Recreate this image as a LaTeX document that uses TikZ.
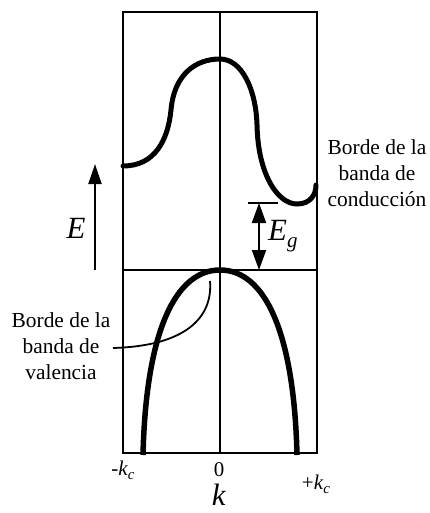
\documentclass[tikz,border=0pt]{standalone}
\usepackage{fontspec}
\setmainfont{Liberation Serif}
\usetikzlibrary{arrows.meta}
\newcommand{\itx}[1]{\textit{#1}}
\begin{document}
\begin{tikzpicture}[x=1bp,y=-1bp,
  frame/.style={line width=2.2bp},
  band/.style={line width=5bp},
  lbl/.style={font=\fontsize{21.5}{26}\selectfont, align=center, inner sep=0pt},
  axl/.style={font=\fontsize{21}{24}\selectfont, inner sep=0pt},
  big/.style={font=\fontsize{31}{32}\selectfont, inner sep=0pt},
  tri/.style={-{Triangle[length=20bp,width=13bp]}, line width=2bp}
]
\useasboundingbox (0,0) rectangle (429,513);
% frame
\coordinate (tl) at (123,12);
\coordinate (br) at (317,453);
\draw[frame] (tl) rectangle (br);
\coordinate (ml) at (123,270);
\coordinate (mr) at (317,270);
\draw[frame] (ml) -- (mr);
\coordinate (ct) at (220,12);
\coordinate (cb) at (220,453);
\draw[frame] (ct) -- (cb);
% conduction band
\draw[band, line cap=round] (123,166) .. controls (155,166) and (168,140) .. (171,110)
  .. controls (174,75) and (195,59) .. (220,59)
  .. controls (242,59) and (256,90) .. (257,125)
  .. controls (258,175) and (278,204) .. (297,204)
  .. controls (310,204) and (316,195) .. (316,185);
% valence band
\draw[band, line width=5.5bp] (143,455) .. controls (146,330) and (176,270) .. (220,270)
  .. controls (264,270) and (294,330) .. (297,455);
% Eg
\coordinate (egt) at (259,203);
\coordinate (egb) at (259,270);
\draw[line width=2bp] (248,203) -- (278,203);
\draw[{Triangle[length=20bp,width=14bp]}-{Triangle[length=20bp,width=14bp]}, line width=2bp] (egt) -- (egb);
\node[big, anchor=west] (eg) at (268,236) {\itx{E}\raisebox{-7bp}{\fontsize{21}{22}\selectfont\itx{g}}};
% E arrow
\coordinate (ea) at (95,270);
\coordinate (eb) at (95,164);
\draw[tri] (ea) -- (eb);
\node[big] (E) at (76,228) {\itx{E}};
% labels
\node[lbl] (lc) at (377,173) {Borde de la\\banda de\\conducción};
\node[lbl] (lv) at (61,346) {Borde de la\\banda de\\valencia};
\coordinate (vs) at (113,348);
\coordinate (ve) at (210,281);
\draw[line width=1.8bp] (vs) .. controls (185,346) and (213,318) .. (ve);
% axis labels
\node[axl] (mk) at (123,470) {-\itx{k}\raisebox{-4bp}{\fontsize{15}{16}\selectfont\itx{c}}};
\node[axl] (z) at (219,470) {0};
\node[axl] (pk) at (316,484) {+\itx{k}\raisebox{-4bp}{\fontsize{15}{16}\selectfont\itx{c}}};
\node[big, anchor=base] (k) at (219,505) {\itx{k}};
\end{tikzpicture}
\end{document}
